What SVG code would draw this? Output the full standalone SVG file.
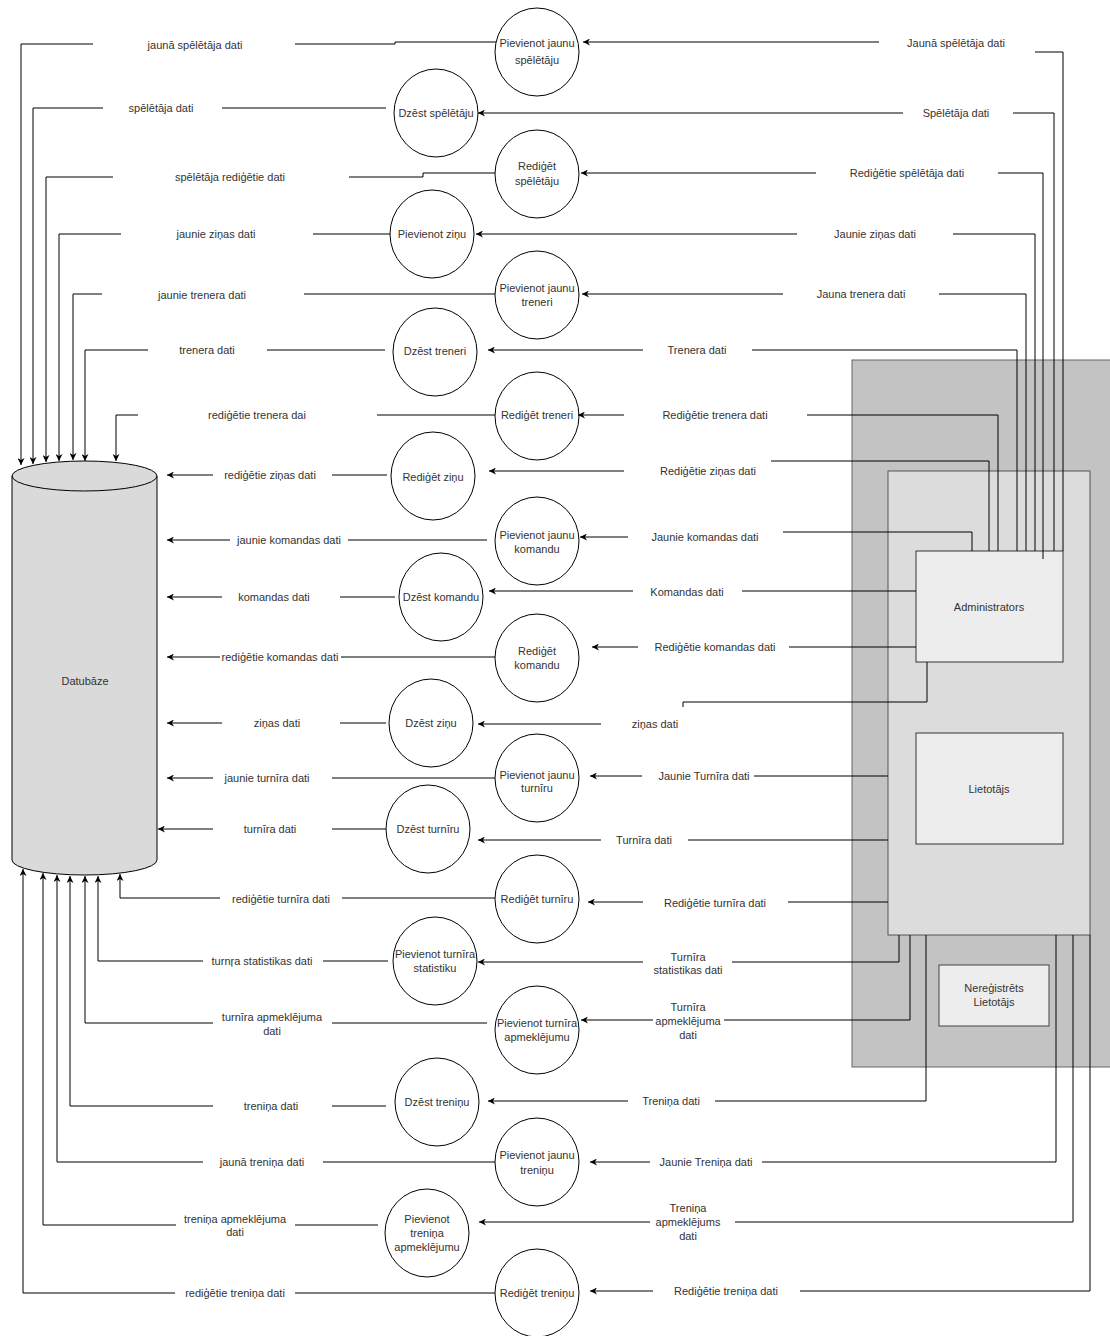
<svg xmlns="http://www.w3.org/2000/svg" width="1110" height="1336" viewBox="0 0 1110 1336">
<defs>
<marker id="arr" viewBox="0 0 10 10" refX="10" refY="5" markerWidth="8" markerHeight="7" markerUnits="userSpaceOnUse" orient="auto">
<path d="M0,0 L10,5 L0,10 L3,5 z" fill="#000"/>
</marker>
</defs>
<style>
text{font-family:"Liberation Sans",Arial,Helvetica,sans-serif;font-size:11px;fill:#333;text-anchor:middle}
.ln{fill:none;stroke:#000;stroke-width:1}
.ar{marker-end:url(#arr)}
.lb rect{fill:#fff;stroke:none}
.proc ellipse{fill:#fff;stroke:#000;stroke-width:1}
.box{stroke-width:1}
</style>
<rect x="0" y="0" width="1110" height="1336" fill="#fff"/>

<!-- actor containers -->
<g id="outer-group"><rect class="box" x="852" y="360" width="270" height="707" fill="#c3c3c3" stroke="#666"/></g>
<g id="registered-group"><rect class="box" x="888" y="471" width="202" height="464" fill="#dcdcdc" stroke="#555"/></g>
<g id="administrators"><rect class="box" x="916" y="551" width="147" height="111" fill="#ededed" stroke="#333"/><text x="989" y="611">Administrators</text></g>
<g id="lietotajs"><rect class="box" x="916" y="733" width="147" height="111" fill="#ededed" stroke="#333"/><text x="989" y="793">Lietotājs</text></g>
<g id="neregistrets"><rect class="box" x="939" y="965" width="110" height="61" fill="#ededed" stroke="#444"/><text x="994" y="992">Nereģistrēts</text><text x="994" y="1006">Lietotājs</text></g>

<!-- database -->
<g id="datubaze">
<path d="M12,476 A72.5,15 0 0 1 157,476 L157,860 A72.5,15 0 0 1 12,860 Z" fill="#dadada" stroke="#000"/>
<path d="M12,476 A72.5,15 0 0 0 157,476" fill="none" stroke="#000"/>
<text x="85" y="685">Datubāze</text>
</g>

<!-- processes -->
<g class="proc">
<g id="p1"><ellipse cx="537" cy="52" rx="42" ry="44"/><text x="537" y="47">Pievienot jaunu</text><text x="537" y="64">spēlētāju</text></g>
<g id="p2"><ellipse cx="436" cy="113" rx="42" ry="44"/><text x="436" y="117">Dzēst spēlētāju</text></g>
<g id="p3"><ellipse cx="537" cy="174" rx="42" ry="44"/><text x="537" y="170">Rediģēt</text><text x="537" y="185">spēlētāju</text></g>
<g id="p4"><ellipse cx="432" cy="234" rx="42" ry="44"/><text x="432" y="238">Pievienot ziņu</text></g>
<g id="p5"><ellipse cx="537" cy="295" rx="42" ry="44"/><text x="537" y="292">Pievienot jaunu</text><text x="537" y="306">treneri</text></g>
<g id="p6"><ellipse cx="435" cy="352" rx="42" ry="44"/><text x="435" y="355">Dzēst treneri</text></g>
<g id="p7"><ellipse cx="537" cy="416" rx="42" ry="44"/><text x="537" y="419">Rediģēt treneri</text></g>
<g id="p8"><ellipse cx="433" cy="476" rx="42" ry="44"/><text x="433" y="481">Rediģēt ziņu</text></g>
<g id="p9"><ellipse cx="537" cy="541" rx="42" ry="44"/><text x="537" y="539">Pievienot jaunu</text><text x="537" y="553">komandu</text></g>
<g id="p10"><ellipse cx="441" cy="597" rx="42" ry="44"/><text x="441" y="601">Dzēst komandu</text></g>
<g id="p11"><ellipse cx="537" cy="658" rx="42" ry="44"/><text x="537" y="655">Rediģēt</text><text x="537" y="669">komandu</text></g>
<g id="p12"><ellipse cx="431" cy="723" rx="42" ry="44"/><text x="431" y="727">Dzēst ziņu</text></g>
<g id="p13"><ellipse cx="537" cy="778" rx="42" ry="44"/><text x="537" y="779">Pievienot jaunu</text><text x="537" y="792">turnīru</text></g>
<g id="p14"><ellipse cx="428" cy="829" rx="42" ry="44"/><text x="428" y="833">Dzēst turnīru</text></g>
<g id="p15"><ellipse cx="537" cy="899" rx="42" ry="44"/><text x="537" y="903">Rediģēt turnīru</text></g>
<g id="p16"><ellipse cx="435" cy="961" rx="42" ry="44"/><text x="435" y="958">Pievienot turnīra</text><text x="435" y="972">statistiku</text></g>
<g id="p17"><ellipse cx="537" cy="1030" rx="42" ry="44"/><text x="537" y="1027">Pievienot turnīra</text><text x="537" y="1041">apmeklējumu</text></g>
<g id="p18"><ellipse cx="437" cy="1102" rx="42" ry="44"/><text x="437" y="1106">Dzēst treniņu</text></g>
<g id="p19"><ellipse cx="537" cy="1162" rx="42" ry="44"/><text x="537" y="1159">Pievienot jaunu</text><text x="537" y="1174">treniņu</text></g>
<g id="p20"><ellipse cx="427" cy="1233" rx="42" ry="44"/><text x="427" y="1223">Pievienot</text><text x="427" y="1237">treniņa</text><text x="427" y="1251">apmeklējumu</text></g>
<g id="p21"><ellipse cx="537" cy="1293" rx="42" ry="44"/><text x="537" y="1297">Rediģēt treniņu</text></g>
</g>

<!-- connectors -->
<g id="connectors">
<path class="ln ar" d="M496,42 H395 V44 H21 V465"/>
<path class="ln ar" d="M386,108 H33 V464"/>
<path class="ln ar" d="M495,173 H423 V177 H46 V462"/>
<path class="ln ar" d="M390,234 H59 V461"/>
<path class="ln ar" d="M495,294 H73 V460"/>
<path class="ln ar" d="M385,350 H85 V461"/>
<path class="ln ar" d="M495,415 H116 V461"/>
<path class="ln ar" d="M387,475 H167"/>
<path class="ln ar" d="M487,540 H167"/>
<path class="ln ar" d="M395,597 H167"/>
<path class="ln ar" d="M495,657 H167"/>
<path class="ln ar" d="M386,723 H167"/>
<path class="ln ar" d="M495,778 H167"/>
<path class="ln ar" d="M386,829 H158"/>
<path class="ln ar" d="M495,898 H120 V874"/>
<path class="ln ar" d="M388,961 H98 V876"/>
<path class="ln ar" d="M487,1023 H85 V876"/>
<path class="ln ar" d="M386,1106 H70 V876"/>
<path class="ln ar" d="M495,1162 H57 V875"/>
<path class="ln ar" d="M378,1225 H43 V873"/>
<path class="ln ar" d="M495,1293 H23 V869"/>

<path class="ln ar" d="M1063,551 V52 H957 V42 H583"/>
<path class="ln ar" d="M1054,551 V113 H478"/>
<path class="ln ar" d="M1043,559 V173 H581"/>
<path class="ln ar" d="M1035,551 V234 H476"/>
<path class="ln ar" d="M1026,551 V294 H582"/>
<path class="ln ar" d="M1017,551 V350 H488"/>
<path class="ln ar" d="M998,551 V415 H578"/>
<path class="ln ar" d="M989,551 V461 H700 V471 H489"/>
<path class="ln ar" d="M972,551 V532 H700 V537 H580"/>
<path class="ln ar" d="M916,591 H489"/>
<path class="ln ar" d="M916,647 H592"/>
<path class="ln ar" d="M927,662 V702 H683 V724 H478"/>
<path class="ln ar" d="M888,776 H590"/>
<path class="ln ar" d="M888,840 H478"/>
<path class="ln ar" d="M888,902 H588"/>
<path class="ln ar" d="M899,935 V962 H478"/>
<path class="ln ar" d="M910,935 V1020 H581"/>
<path class="ln ar" d="M926,935 V1101 H488"/>
<path class="ln ar" d="M1056,935 V1162 H590"/>
<path class="ln ar" d="M1073,935 V1222 H479"/>
<path class="ln ar" d="M1090,935 V1291 H590"/>
</g>

<!-- flow labels -->
<g id="labels" class="lb">
<g><rect x="93" y="36" width="202" height="16"/><text x="195" y="49">jaunā spēlētāja dati</text></g>
<g><rect x="103" y="100" width="119" height="16"/><text x="161" y="112">spēlētāja dati</text></g>
<g><rect x="113" y="169" width="236" height="16"/><text x="230" y="181">spēlētāja rediģētie dati</text></g>
<g><rect x="121" y="226" width="192" height="16"/><text x="216" y="238">jaunie ziņas dati</text></g>
<g><rect x="102" y="287" width="202" height="16"/><text x="202" y="299">jaunie trenera dati</text></g>
<g><rect x="148" y="342" width="119" height="16"/><text x="207" y="354">trenera dati</text></g>
<g><rect x="138" y="407" width="239" height="16"/><text x="257" y="419">rediģētie trenera dai</text></g>
<g><rect x="213" y="467" width="119" height="16"/><text x="270" y="479">rediģētie ziņas dati</text></g>
<g><rect x="230" y="532" width="118" height="16"/><text x="289" y="544">jaunie komandas dati</text></g>
<g><rect x="222" y="589" width="118" height="16"/><text x="274" y="601">komandas dati</text></g>
<g><rect x="220" y="650" width="121" height="14"/><text x="280" y="661">rediģētie komandas dati</text></g>
<g><rect x="222" y="715" width="118" height="16"/><text x="277" y="727">ziņas dati</text></g>
<g><rect x="213" y="770" width="119" height="16"/><text x="267" y="782">jaunie turnīra dati</text></g>
<g><rect x="213" y="821" width="119" height="16"/><text x="270" y="833">turnīra dati</text></g>
<g><rect x="220" y="890" width="122" height="16"/><text x="281" y="903">rediģētie turnīra dati</text></g>
<g><rect x="203" y="953" width="120" height="16"/><text x="262" y="965">turnŗa statistikas dati</text></g>
<g><rect x="213" y="1008" width="119" height="32"/><text x="272" y="1021">turnīra apmeklējuma</text><text x="272" y="1035">dati</text></g>
<g><rect x="213" y="1098" width="119" height="16"/><text x="271" y="1110">treniņa dati</text></g>
<g><rect x="203" y="1154" width="120" height="16"/><text x="262" y="1166">jaunā treniņa dati</text></g>
<g><rect x="176" y="1210" width="119" height="30"/><text x="235" y="1223">treniņa apmeklējuma</text><text x="235" y="1236">dati</text></g>
<g><rect x="175" y="1285" width="120" height="16"/><text x="235" y="1297">rediģētie treniņa dati</text></g>

<g><rect x="879" y="34" width="156" height="22"/><text x="956" y="47">Jaunā spēlētāja dati</text></g>
<g><rect x="903" y="105" width="110" height="16"/><text x="956" y="117">Spēlētāja dati</text></g>
<g><rect x="816" y="165" width="182" height="16"/><text x="907" y="177">Rediģētie spēlētāja dati</text></g>
<g><rect x="797" y="226" width="156" height="16"/><text x="875" y="238">Jaunie ziņas dati</text></g>
<g><rect x="783" y="286" width="156" height="16"/><text x="861" y="298">Jauna trenera dati</text></g>
<g><rect x="643" y="342" width="109" height="16"/><text x="697" y="354">Trenera dati</text></g>
<g><rect x="624" y="407" width="183" height="16"/><text x="715" y="419">Rediģētie trenera dati</text></g>
<g><rect x="624" y="455" width="147" height="24"/><text x="708" y="475">Rediģētie ziņas dati</text></g>
<g><rect x="628" y="526" width="155" height="18"/><text x="705" y="541">Jaunie komandas dati</text></g>
<g><rect x="633" y="584" width="109" height="16"/><text x="687" y="596">Komandas dati</text></g>
<g><rect x="638" y="639" width="151" height="16"/><text x="715" y="651">Rediģētie komandas dati</text></g>
<g><rect x="601" y="707" width="99" height="34"/><text x="655" y="728">ziņas dati</text></g>
<g><rect x="642" y="768" width="112" height="16"/><text x="704" y="780">Jaunie Turnīra dati</text></g>
<g><rect x="601" y="832" width="87" height="16"/><text x="644" y="844">Turnīra dati</text></g>
<g><rect x="643" y="894" width="145" height="16"/><text x="715" y="907">Rediģētie turnīra dati</text></g>
<g><rect x="643" y="948" width="89" height="30"/><text x="688" y="961">Turnīra</text><text x="688" y="974">statistikas dati</text></g>
<g><rect x="653" y="998" width="71" height="46"/><text x="688" y="1011">Turnīra</text><text x="688" y="1025">apmeklējuma</text><text x="688" y="1039">dati</text></g>
<g><rect x="628" y="1093" width="87" height="16"/><text x="671" y="1105">Treniņa dati</text></g>
<g><rect x="650" y="1154" width="112" height="16"/><text x="706" y="1166">Jaunie Treniņa dati</text></g>
<g><rect x="650" y="1199" width="85" height="46"/><text x="688" y="1212">Treniņa</text><text x="688" y="1226">apmeklējums</text><text x="688" y="1240">dati</text></g>
<g><rect x="653" y="1283" width="147" height="16"/><text x="726" y="1295">Rediģētie treniņa dati</text></g>
</g>
</svg>
